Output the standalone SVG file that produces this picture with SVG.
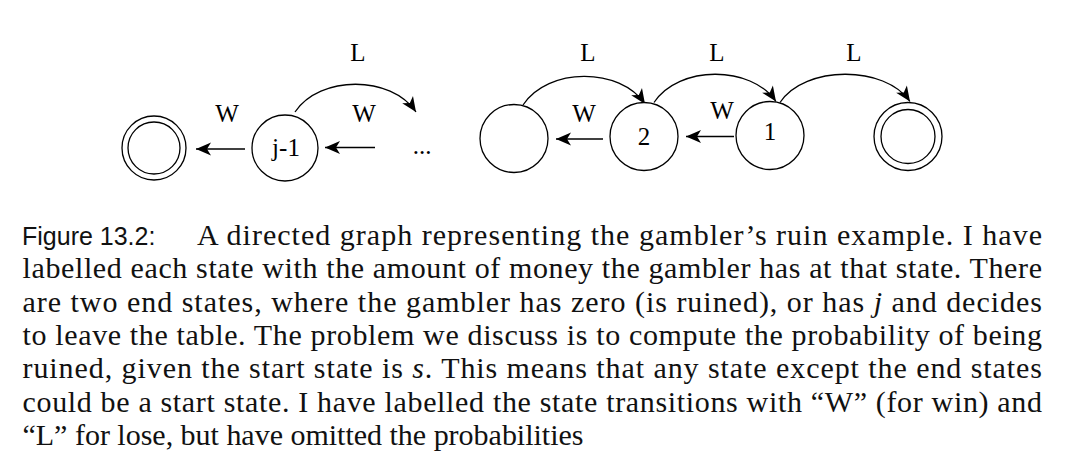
<svg xmlns="http://www.w3.org/2000/svg" width="1084" height="472" viewBox="0 0 1084 472">
<defs>
<marker id="ah" markerUnits="userSpaceOnUse" markerWidth="18" markerHeight="16" viewBox="-16 -8 18 16" refX="0" refY="0" orient="auto">
<path d="M0,0 L-15,-6.5 L-11,0 L-15,6.5 Z" fill="#000"/>
</marker>
<style>
.st{fill:#fff;stroke:#000;stroke-width:1.3}
.e{fill:none;stroke:#000;stroke-width:1.3;marker-end:url(#ah)}
.lb{font-family:"Liberation Serif",serif;font-size:25px;fill:#000;text-anchor:middle}
.cap{font-family:"Liberation Serif",serif;font-size:30px;fill:#111}
.fig{font-family:"Liberation Sans",sans-serif;font-size:25px;fill:#111}
</style>
</defs>
<rect width="1084" height="472" fill="#fff"/>
<g id="connectors">
<path class="e" d="M245,149 L196,149"/>
<path class="e" d="M375,147.5 L325,147.5"/>
<path class="e" d="M295,112 C320,75 391,75 416,112"/>
<path class="e" d="M603,139 L556,139"/>
<path class="e" d="M734,136.5 L686,136.5"/>
<path class="e" d="M523,105 C548,67 620,67 645,104"/>
<path class="e" d="M654,102.5 C679,65 751,65 776,101.5"/>
<path class="e" d="M780,102.5 C805,65 885,65 910,101.5"/>
<g id="edge-labels">
<text class="lb" x="358" y="61">L</text>
<text class="lb" x="588" y="61">L</text>
<text class="lb" x="717" y="61">L</text>
<text class="lb" x="854" y="61">L</text>
<text class="lb" x="227" y="122">W</text>
<text class="lb" x="364" y="122">W</text>
<text class="lb" x="584" y="122">W</text>
<text class="lb" x="722" y="119">W</text>
</g>
</g>
<g id="state-0"><circle class="st" cx="154" cy="148" r="32"/><circle class="st" cx="154" cy="148" r="26"/></g>
<g id="state-j-1"><circle class="st" cx="285" cy="148" r="33"/><text class="lb" x="286" y="156">j-1</text></g>
<g id="state-dots"><text class="lb" x="422" y="154">...</text></g>
<g id="state-3"><circle class="st" cx="514" cy="138.5" r="34"/></g>
<g id="state-2"><circle class="st" cx="644" cy="136.5" r="34"/><text class="lb" x="644" y="145">2</text></g>
<g id="state-1"><circle class="st" cx="770" cy="135.5" r="34"/><text class="lb" x="770" y="140">1</text></g>
<g id="state-j"><circle class="st" cx="908" cy="136.5" r="34"/><circle class="st" cx="908" cy="136.5" r="27"/></g>
<g id="caption">
<text class="fig" x="22" y="245">Figure 13.2:</text>
<text class="cap" x="197" y="245" textLength="845" lengthAdjust="spacing">A directed graph representing the gambler’s ruin example. I have</text>
<text class="cap" x="22.5" y="278.3" textLength="1019.5" lengthAdjust="spacing">labelled each state with the amount of money the gambler has at that state. There</text>
<text class="cap" x="22.5" y="311.6" textLength="1019.5" lengthAdjust="spacing">are two end states, where the gambler has zero (is ruined), or has <tspan font-style="italic">j</tspan> and decides</text>
<text class="cap" x="22.5" y="345" textLength="1019.5" lengthAdjust="spacing">to leave the table. The problem we discuss is to compute the probability of being</text>
<text class="cap" x="22.5" y="378.3" textLength="1019.5" lengthAdjust="spacing">ruined, given the start state is <tspan font-style="italic">s</tspan>. This means that any state except the end states</text>
<text class="cap" x="22.5" y="411.6" textLength="1019.5" lengthAdjust="spacing">could be a start state. I have labelled the state transitions with “W” (for win) and</text>
<text class="cap" x="22.5" y="445" textLength="561" lengthAdjust="spacing">“L” for lose, but have omitted the probabilities</text>
</g>
</svg>
